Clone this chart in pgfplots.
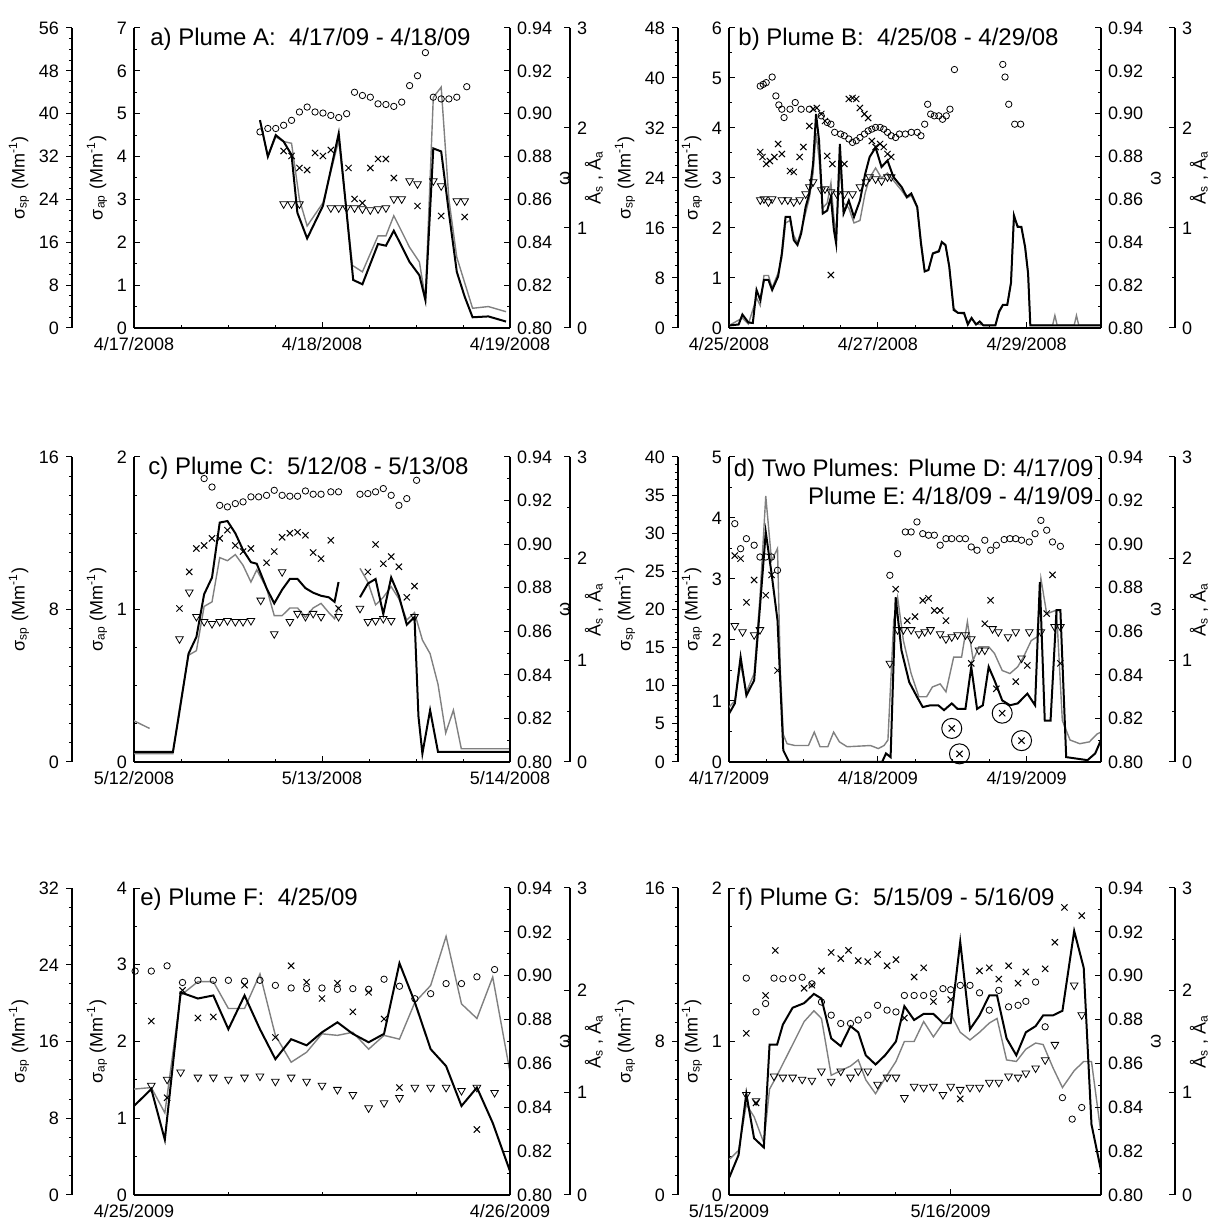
\documentclass[border=0pt]{standalone}
\usepackage{fontspec}
\setmainfont{Liberation Sans}
\usepackage{pgfplots}
\pgfplotsset{compat=1.18}

\pgfplotsset{
  every axis/.append style={scale only axis, anchor=south west,
    axis line style={-, line width=0.6pt},
    tick style={black, line width=0.5pt}, major tick length=3pt, minor tick length=1.6pt,
    tick align=inside,
    tick label style={font=\fontsize{9}{10}\selectfont},
    label style={font=\fontsize{9}{10}\selectfont},
    /pgf/number format/assume math mode=true},
  main/.style={axis x line*=bottom, axis y line*=left, ymin=0, minor y tick num=1,
    xticklabel style={yshift=-1pt}, ylabel style={yshift=-2pt}},
  omega/.style={hide x axis, axis y line*=right, ymin=0.80, ymax=0.94,
    ytick={0.80,0.82,0.84,0.86,0.88,0.90,0.92,0.94},
    yticklabels={0.80,0.82,0.84,0.86,0.88,0.90,0.92,0.94}, minor y tick num=1,
    ylabel={ω}, ylabel style={yshift=3pt}},
  angd/.style={hide axis, ymin=0, ymax=3},
  outerL/.style={width=1pt, xmin=0, xmax=1, hide x axis, axis y line*=left, ymin=0,
    tick align=outside, minor y tick num=3, axis line style={-, line width=0.9pt},
    ylabel style={yshift=-2pt}},
  outerR/.style={width=1pt, xmin=0, xmax=1, hide x axis, axis y line*=right, ymin=0, ymax=3,
    ytick={0,1,2,3}, minor y tick num=1, axis line style={-, line width=0.9pt},
    ylabel style={yshift=8pt}},
  bl/.style={black, line width=1pt, no markers},
  gl/.style={black!50, line width=0.7pt, no markers},
  circ/.style={only marks, mark=o, mark size=1.6pt, mark options={black, line width=0.4pt}},
  crs/.style={only marks, mark=x, mark size=2.2pt, mark options={black, line width=0.5pt}},
  tri/.style={only marks, mark=triangle, mark size=2.2pt, mark options={black, rotate=180, line width=0.4pt}},
  big/.style={only marks, mark=o, mark size=5pt, mark options={black, line width=0.5pt}},
  colL/.style={width=188pt},
  colR/.style={width=186pt},
  rowA/.style={height=150pt},
  rowB/.style={height=152.5pt},
  rowC/.style={height=153.5pt},
}
\tikzset{ttl/.style={inner sep=0pt, font=\fontsize{12}{14}\selectfont}}
\newcommand{\ssp}{σ\textsubscript{sp} (Mm\textsuperscript{-1})}
\newcommand{\sap}{σ\textsubscript{ap} (Mm\textsuperscript{-1})}
\newcommand{\angl}{Å\textsubscript{s} , Å\textsubscript{a}}

\begin{document}
\begin{tikzpicture}
\useasboundingbox (0,0) rectangle (610pt,610pt);

% ---------------- panel a
\begin{axis}[outerL, rowA, at={(36pt,446pt)}, ymax=56, ytick={0,8,...,56}, ylabel={\ssp}]
\end{axis}
\begin{axis}[main, colL, rowA, at={(67pt,446pt)}, xmin=0, xmax=2, ymax=7, ytick={0,...,7},
  xtick={0,1,2}, xticklabels={4/17/2008,4/18/2008,4/19/2008}, minor x tick num=3, ylabel={\sap}]
\addplot[gl] coordinates {(0.670,4.85) (0.712,4.0) (0.754,4.46) (0.796,4.35) (0.838,4.31) (0.880,3.0) (0.921,2.38) (1.005,2.92) (1.089,4.38) (1.162,1.46) (1.215,1.31) (1.298,2.15) (1.340,2.15) (1.382,2.62) (1.466,1.88) (1.518,1.54) (1.550,0.69) (1.592,5.38) (1.634,5.62) (1.675,3.0) (1.717,1.65) (1.801,0.46) (1.885,0.5) (1.979,0.38)};
\addplot[bl] coordinates {(0.670,4.85) (0.712,4.0) (0.754,4.5) (0.796,4.35) (0.838,4.04) (0.869,2.69) (0.921,2.09) (1.005,2.85) (1.089,4.54) (1.131,2.69) (1.166,1.12) (1.215,1.02) (1.298,1.96) (1.340,1.92) (1.382,2.27) (1.466,1.54) (1.518,1.23) (1.550,0.65) (1.592,4.19) (1.634,4.12) (1.675,2.69) (1.717,1.31) (1.759,0.73) (1.801,0.25) (1.885,0.27) (1.979,0.15)};
\end{axis}
\begin{axis}[omega, colL, rowA, at={(67pt,446pt)}, xmin=0, xmax=2]
\addplot[circ] coordinates {(0.670,0.8915) (0.712,0.8931) (0.754,0.8931) (0.796,0.8946) (0.838,0.8969) (0.880,0.9008) (0.921,0.9031) (0.963,0.9008) (1.005,0.9003) (1.047,0.8992) (1.089,0.8982) (1.131,0.9000) (1.173,0.9100) (1.215,0.9085) (1.257,0.9077) (1.298,0.9046) (1.340,0.9043) (1.382,0.9034) (1.424,0.9054) (1.466,0.9131) (1.508,0.9177) (1.550,0.9285) (1.592,0.9077) (1.634,0.9069) (1.675,0.9069) (1.717,0.9077) (1.770,0.9126)};
\end{axis}
\begin{axis}[angd, colL, rowA, at={(67pt,446pt)}, xmin=0, xmax=2]
\addplot[tri] coordinates {(0.796,1.24) (0.838,1.24) (0.880,1.24) (1.047,1.20) (1.089,1.20) (1.131,1.20) (1.173,1.20) (1.215,1.19) (1.257,1.18) (1.298,1.19) (1.340,1.20) (1.382,1.29) (1.424,1.29) (1.466,1.47) (1.508,1.44) (1.592,1.47) (1.634,1.42) (1.717,1.27) (1.759,1.27)};
\addplot[crs] coordinates {(0.796,1.77) (0.838,1.72) (0.880,1.60) (0.921,1.58) (0.963,1.75) (1.005,1.72) (1.047,1.78) (1.141,1.60) (1.173,1.29) (1.215,1.25) (1.257,1.60) (1.298,1.69) (1.340,1.69) (1.382,1.50) (1.508,1.22) (1.634,1.12) (1.759,1.11)};
\end{axis}
\begin{axis}[outerR, rowA, at={(284pt,446pt)}, ylabel={\angl}]
\end{axis}
\node[ttl, anchor=base west] at (75pt,587pt) {a) Plume A:\ \ 4/17/09 - 4/18/09};

% ---------------- panel b
\begin{axis}[outerL, rowA, at={(339pt,446pt)}, ymax=48, ytick={0,8,...,48}, ylabel={\ssp}]
\end{axis}
\begin{axis}[main, colR, rowA, at={(364.5pt,446pt)}, xmin=0, xmax=5, ymax=6, ytick={0,...,6},
  xtick={0,2,4}, xticklabels={4/25/2008,4/27/2008,4/29/2008}, minor x tick num=3, ylabel={\sap}]
\addplot[gl] coordinates {(0,0.05) (0.18,0.2) (0.26,0.08) (0.37,0.6) (0.42,0.45) (0.47,1.05) (0.53,1.05) (0.58,0.8) (0.66,1.1) (0.71,1.4) (0.76,2.1) (0.82,2.15) (0.87,1.85) (0.92,1.7) (0.97,1.95) (1.03,2.3) (1.08,2.6) (1.13,3.1) (1.17,3.9) (1.21,3.4) (1.26,2.4) (1.32,2.5) (1.37,2.9) (1.41,2.2) (1.44,1.9) (1.49,3.2) (1.54,2.5) (1.61,2.4) (1.68,2.1) (1.76,2.15) (1.83,2.7) (1.89,3.0) (1.97,3.2) (2.05,3.0) (2.13,3.1) (2.21,2.95) (2.32,2.75) (2.39,2.6) (2.45,2.65) (2.53,2.4) (2.58,1.75) (2.63,1.15) (2.68,1.15) (2.74,1.5) (2.82,1.55) (2.86,1.7) (2.91,1.65) (2.96,1.25) (3.02,0.4) (3.08,0.3) (3.16,0.28) (3.21,0.1) (3.26,0.2) (3.32,0.08) (3.42,0.06) (3.58,0.06) (3.63,0.3) (3.68,0.45) (3.74,0.47) (3.79,0.92) (3.83,2.2) (3.88,2.05) (3.93,2.0) (3.98,1.6) (4.02,1.1) (4.05,0.06) (4.35,0.06) (4.38,0.25) (4.41,0.06) (4.64,0.06) (4.67,0.25) (4.70,0.06) (5.0,0.06)};
\addplot[bl] coordinates {(0,0.05) (0.13,0.07) (0.18,0.27) (0.26,0.11) (0.32,0.10) (0.37,0.76) (0.42,0.56) (0.47,0.96) (0.53,0.96) (0.58,0.76) (0.66,1.03) (0.71,1.49) (0.76,2.22) (0.82,2.22) (0.87,1.76) (0.92,1.66) (0.97,1.89) (1.03,2.42) (1.08,2.69) (1.13,3.28) (1.17,4.28) (1.21,3.75) (1.26,2.29) (1.32,2.35) (1.37,2.62) (1.41,1.96) (1.44,1.69) (1.49,3.68) (1.54,2.29) (1.61,2.55) (1.68,2.22) (1.76,2.55) (1.83,3.08) (1.89,3.42) (1.97,3.61) (2.05,3.22) (2.13,3.35) (2.21,3.02) (2.32,2.82) (2.39,2.62) (2.45,2.69) (2.53,2.42) (2.58,1.69) (2.63,1.13) (2.68,1.16) (2.74,1.49) (2.82,1.53) (2.86,1.72) (2.91,1.66) (2.96,1.23) (3.02,0.36) (3.08,0.30) (3.16,0.30) (3.21,0.07) (3.26,0.20) (3.32,0.07) (3.37,0.13) (3.42,0.05) (3.58,0.05) (3.63,0.33) (3.68,0.46) (3.74,0.46) (3.79,0.90) (3.83,2.25) (3.88,2.02) (3.93,2.02) (3.98,1.62) (4.02,1.09) (4.05,0.05) (5.0,0.05)};
\end{axis}
\begin{axis}[omega, colR, rowA, at={(364.5pt,446pt)}, xmin=0, xmax=5]
\addplot[circ] coordinates {(0.42,0.9129) (0.46,0.9137) (0.50,0.9145) (0.58,0.9171) (0.63,0.9083) (0.67,0.9041) (0.71,0.9021) (0.74,0.8982) (0.82,0.9021) (0.89,0.9052) (0.97,0.9021) (1.08,0.9021) (1.24,0.8990) (1.32,0.8959) (1.37,0.8951) (1.42,0.8913) (1.50,0.8905) (1.55,0.8897) (1.61,0.8882) (1.66,0.8866) (1.71,0.8874) (1.76,0.8889) (1.82,0.8905) (1.87,0.8920) (1.92,0.8928) (1.97,0.8936) (2.03,0.8936) (2.08,0.8928) (2.13,0.8913) (2.18,0.8897) (2.24,0.8889) (2.29,0.8905) (2.37,0.8905) (2.45,0.8913) (2.53,0.8913) (2.58,0.8897) (2.63,0.8951) (2.67,0.9044) (2.71,0.8998) (2.76,0.8990) (2.82,0.8990) (2.87,0.8974) (2.92,0.8990) (2.97,0.9021) (3.03,0.9206) (3.68,0.9230) (3.71,0.9171) (3.76,0.9044) (3.84,0.8951) (3.92,0.8951)};
\end{axis}
\begin{axis}[angd, colR, rowA, at={(364.5pt,446pt)}, xmin=0, xmax=5]
\addplot[tri] coordinates {(0.42,1.28) (0.47,1.29) (0.53,1.26) (0.58,1.29) (0.71,1.28) (0.79,1.28) (0.87,1.26) (0.95,1.28) (1.03,1.34) (1.08,1.41) (1.13,1.46) (1.24,1.38) (1.29,1.39) (1.37,1.36) (1.45,1.34) (1.55,1.34) (1.66,1.34) (1.76,1.41) (1.84,1.46) (1.89,1.51) (1.97,1.49) (2.05,1.47) (2.13,1.51) (2.18,1.51)};
\addplot[crs] coordinates {(0.42,1.76) (0.45,1.71) (0.50,1.64) (0.55,1.67) (0.61,1.71) (0.66,1.84) (0.71,1.74) (0.82,1.57) (0.87,1.56) (0.95,1.71) (1.00,1.81) (1.08,2.02) (1.13,2.19) (1.18,2.20) (1.24,2.14) (1.29,2.07) (1.32,1.72) (1.37,0.53) (1.39,1.64) (1.55,1.64) (1.61,2.29) (1.66,2.30) (1.71,2.29) (1.76,2.20) (1.82,2.14) (1.87,2.10) (1.92,1.87) (1.97,1.81) (2.03,1.84) (2.08,1.81) (2.13,1.74) (2.18,1.71)};
\end{axis}
\begin{axis}[outerR, rowA, at={(586.5pt,446pt)}, ylabel={\angl}]
\end{axis}
\node[ttl, anchor=base west] at (369pt,587pt) {b) Plume B:\ \ 4/25/08 - 4/29/08};

% ---------------- panel c
\begin{axis}[outerL, rowB, at={(36pt,229pt)}, ymax=16, ytick={0,8,16}, minor y tick num=7, ylabel={\ssp}]
\end{axis}
\begin{axis}[main, colL, rowB, at={(67pt,229pt)}, xmin=0, xmax=2, ymax=2, ytick={0,1,2}, minor y tick num=3,
  xtick={0,1,2}, xticklabels={5/12/2008,5/13/2008,5/14/2008}, minor x tick num=3, ylabel={\sap}]
\addplot[gl] coordinates {(0,0.27) (0.083,0.22)};
\addplot[gl] coordinates {(0,0.055) (0.207,0.055) (0.238,0.32) (0.290,0.70) (0.332,0.73) (0.373,1.02) (0.415,1.05) (0.456,1.34) (0.497,1.32) (0.539,1.36) (0.580,1.29) (0.622,1.18) (0.653,1.26) (0.705,1.14) (0.746,0.96) (0.788,0.96) (0.829,1.01) (0.870,1.01) (0.912,0.95) (0.953,1.01) (0.995,1.04) (1.036,0.98) (1.067,0.94) (1.088,1.02)};
\addplot[gl] coordinates {(1.202,1.27) (1.244,1.18) (1.285,1.03) (1.326,1.08) (1.368,1.15) (1.409,1.07) (1.451,0.93) (1.492,0.98) (1.534,0.80) (1.575,0.71) (1.617,0.51) (1.658,0.19) (1.699,0.34) (1.741,0.087) (2.0,0.087)};
\addplot[bl] coordinates {(0,0.066) (0.207,0.066) (0.238,0.30) (0.290,0.71) (0.332,0.82) (0.373,1.10) (0.415,1.21) (0.456,1.57) (0.497,1.58) (0.539,1.50) (0.580,1.39) (0.622,1.31) (0.653,1.30) (0.705,1.14) (0.746,1.04) (0.788,1.13) (0.829,1.20) (0.870,1.20) (0.912,1.14) (0.953,1.11) (0.995,1.09) (1.036,1.08) (1.067,1.05) (1.088,1.18)};
\addplot[bl] coordinates {(1.202,1.08) (1.244,1.17) (1.285,1.20) (1.326,0.97) (1.368,1.21) (1.409,1.09) (1.451,0.90) (1.492,0.95) (1.513,0.30) (1.534,0.055) (1.575,0.34) (1.617,0.066) (2.0,0.066)};
\end{axis}
\begin{axis}[omega, colL, rowB, at={(67pt,229pt)}, xmin=0, xmax=2]
\addplot[circ] coordinates {(0.373,0.9301) (0.415,0.9262) (0.456,0.9178) (0.497,0.9171) (0.539,0.9186) (0.580,0.9194) (0.622,0.9217) (0.663,0.9217) (0.705,0.9224) (0.746,0.9247) (0.788,0.9224) (0.829,0.9220) (0.870,0.9220) (0.912,0.9244) (0.953,0.9229) (0.995,0.9229) (1.047,0.9240) (1.088,0.9240) (1.202,0.9229) (1.244,0.9232) (1.285,0.9240) (1.326,0.9255) (1.368,0.9224) (1.409,0.9178) (1.451,0.9209) (1.503,0.9293)};
\end{axis}
\begin{axis}[angd, colL, rowB, at={(67pt,229pt)}, xmin=0, xmax=2]
\addplot[tri] coordinates {(0.242,1.21) (0.294,1.67) (0.332,1.43) (0.373,1.38) (0.415,1.36) (0.456,1.38) (0.497,1.39) (0.539,1.38) (0.580,1.38) (0.622,1.39) (0.674,1.59) (0.746,1.26) (0.788,1.87) (0.829,1.38) (0.870,1.46) (0.912,1.43) (0.953,1.46) (0.995,1.43) (1.088,1.43) (1.202,1.51) (1.244,1.38) (1.285,1.39) (1.326,1.41) (1.368,1.39) (1.492,1.43)};
\addplot[crs] coordinates {(0.242,1.51) (0.294,1.87) (0.332,2.10) (0.373,2.13) (0.415,2.20) (0.456,2.20) (0.497,2.28) (0.539,2.13) (0.580,2.07) (0.622,2.10) (0.705,1.96) (0.746,2.07) (0.788,2.21) (0.829,2.25) (0.870,2.26) (0.912,2.23) (0.953,2.06) (0.995,2.00) (1.047,2.18) (1.088,1.51) (1.244,1.87) (1.285,2.14) (1.326,1.95) (1.368,2.02) (1.409,1.92) (1.451,1.62) (1.492,1.73)};
\end{axis}
\begin{axis}[outerR, rowB, at={(284pt,229pt)}, ylabel={\angl}]
\end{axis}
\node[ttl, anchor=base west] at (74pt,372.5pt) {c) Plume C:\ \ 5/12/08 - 5/13/08};

% ---------------- panel d
\begin{axis}[outerL, rowB, at={(339pt,229pt)}, ymax=40, ytick={0,5,...,40}, minor y tick num=4, ylabel={\ssp}]
\end{axis}
\begin{axis}[main, colR, rowB, at={(364.5pt,229pt)}, xmin=0, xmax=2.5, ymax=5, ytick={0,...,5},
  xtick={0,1,2}, xticklabels={4/17/2009,4/18/2009,4/19/2009}, minor x tick num=3, ylabel={\sap}]
\addplot[gl] coordinates {(0,0.9) (0.039,1.0) (0.078,1.6) (0.117,1.15) (0.169,1.45) (0.208,2.7) (0.247,4.36) (0.286,3.3) (0.326,3.5) (0.345,1.5) (0.365,0.45) (0.39,0.3) (0.443,0.27) (0.534,0.27) (0.573,0.49) (0.612,0.25) (0.664,0.25) (0.703,0.49) (0.742,0.33) (0.794,0.25) (0.951,0.27) (1.003,0.22) (1.042,0.27) (1.068,0.36) (1.107,2.32) (1.133,2.70) (1.172,1.99) (1.224,1.45) (1.276,1.07) (1.328,1.07) (1.367,1.23) (1.419,1.28) (1.458,1.15) (1.510,1.72) (1.563,1.72) (1.602,2.30) (1.641,1.67) (1.680,1.89) (1.745,1.89) (1.784,1.78) (1.836,1.50) (1.888,1.45) (1.940,1.56) (1.979,1.72) (2.031,1.99) (2.070,2.05) (2.096,3.01) (2.135,2.43) (2.201,2.49) (2.240,0.68) (2.292,0.36) (2.357,0.30) (2.422,0.33) (2.474,0.46) (2.5,0.49)};
\addplot[bl] coordinates {(0,0.79) (0.039,0.96) (0.078,1.72) (0.117,1.09) (0.169,1.34) (0.208,2.54) (0.247,3.77) (0.286,3.09) (0.326,2.32) (0.365,0.19) (0.404,0) (1.029,0) (1.055,0.14) (1.086,0.08) (1.120,2.70) (1.159,1.83) (1.211,1.31) (1.263,1.07) (1.302,0.90) (1.354,0.93) (1.406,0.93) (1.445,0.85) (1.497,0.96) (1.536,0.87) (1.589,0.87) (1.628,1.56) (1.667,0.87) (1.706,0.93) (1.745,1.56) (1.784,1.34) (1.836,1.01) (1.888,0.93) (1.940,0.96) (2.005,1.12) (2.057,0.93) (2.089,2.95) (2.122,0.68) (2.161,0.68) (2.201,2.49) (2.227,2.49) (2.266,0.08) (2.409,0.03) (2.461,0.14) (2.5,0.36)};
\end{axis}
\begin{axis}[omega, colR, rowB, at={(364.5pt,229pt)}, xmin=0, xmax=2.5]
\addplot[circ] coordinates {(0.039,0.9094) (0.078,0.8979) (0.117,0.9025) (0.169,0.8995) (0.208,0.8941) (0.247,0.8941) (0.286,0.8941) (0.326,0.8880) (1.081,0.8857) (1.133,0.8956) (1.185,0.9056) (1.224,0.9056) (1.263,0.9102) (1.302,0.9048) (1.341,0.9041) (1.380,0.9041) (1.419,0.8995) (1.458,0.9025) (1.497,0.9025) (1.549,0.9025) (1.589,0.9025) (1.628,0.8987) (1.667,0.8972) (1.719,0.9018) (1.758,0.8972) (1.797,0.8995) (1.849,0.9021) (1.888,0.9025) (1.927,0.9025) (1.966,0.9018) (2.018,0.9010) (2.057,0.9048) (2.096,0.9109) (2.135,0.9064) (2.174,0.9010) (2.227,0.8990)};
\end{axis}
\begin{axis}[angd, colR, rowB, at={(364.5pt,229pt)}, xmin=0, xmax=2.5]
\addplot[tri] coordinates {(0.039,1.34) (0.091,1.28) (0.169,1.25) (0.208,1.30) (1.081,0.97) (1.133,1.30) (1.172,1.30) (1.224,1.30) (1.276,1.26) (1.315,1.28) (1.354,1.30) (1.419,1.26) (1.458,1.21) (1.497,1.23) (1.536,1.25) (1.589,1.25) (1.628,1.21) (1.680,1.10) (1.719,1.10) (1.771,1.31) (1.810,1.28) (1.875,1.23) (1.927,1.28) (1.966,1.02) (2.018,1.28) (2.096,1.28) (2.188,1.33) (2.227,1.33)};
\addplot[crs] coordinates {(0.039,2.03) (0.078,2.00) (0.117,1.57) (0.169,1.79) (0.247,1.64) (0.286,1.84) (0.326,0.90) (1.120,1.70) (1.198,1.39) (1.250,1.43) (1.302,1.59) (1.341,1.61) (1.380,1.49) (1.419,1.49) (1.458,1.39) (1.628,0.97) (1.719,1.36) (1.758,1.59) (1.797,0.72) (1.927,0.79) (2.005,0.95) (2.135,1.46) (2.174,1.84) (2.227,0.97) (1.497,0.33) (1.549,0.08) (1.836,0.48) (1.966,0.21)};
\addplot[big] coordinates {(1.497,0.33) (1.549,0.08) (1.836,0.48) (1.966,0.21)};
\end{axis}
\begin{axis}[outerR, rowB, at={(586.5pt,229pt)}, ylabel={\angl}]
\end{axis}
\node[ttl, anchor=base east] at (547pt,371.5pt) {d) Two Plumes: Plume D: 4/17/09};
\node[ttl, anchor=base east] at (547pt,357.5pt) {Plume E: 4/18/09 - 4/19/09};

% ---------------- panel e
\begin{axis}[outerL, rowC, at={(36pt,12.5pt)}, ymax=32, ytick={0,8,...,32}, ylabel={\ssp}]
\end{axis}
\begin{axis}[main, colL, rowC, at={(67pt,12.5pt)}, xmin=0, xmax=1, ymax=4, ytick={0,...,4},
  xtick={0,1}, xticklabels={4/25/2009,4/26/2009}, minor x tick num=3, ylabel={\sap}]
\addplot[gl] coordinates {(0,1.38) (0.046,1.40) (0.082,1.07) (0.124,2.60) (0.170,2.78) (0.211,2.78) (0.251,2.43) (0.294,2.43) (0.335,2.88) (0.376,2.08) (0.418,1.73) (0.459,1.86) (0.500,2.10) (0.541,2.08) (0.582,2.12) (0.624,1.90) (0.665,2.08) (0.706,2.03) (0.747,2.51) (0.789,2.73) (0.830,3.37) (0.871,2.49) (0.912,2.30) (0.954,2.84) (1.0,1.60)};
\addplot[bl] coordinates {(0,1.16) (0.046,1.38) (0.082,0.72) (0.124,2.64) (0.170,2.56) (0.211,2.60) (0.251,2.16) (0.294,2.60) (0.335,2.16) (0.376,1.77) (0.418,2.03) (0.459,1.95) (0.500,2.12) (0.541,2.25) (0.582,2.10) (0.624,1.99) (0.665,2.10) (0.706,3.02) (0.747,2.51) (0.789,1.90) (0.830,1.68) (0.871,1.16) (0.912,1.40) (0.954,0.94) (1.0,0.31)};
\end{axis}
\begin{axis}[omega, colL, rowC, at={(67pt,12.5pt)}, xmin=0, xmax=1]
\addplot[circ] coordinates {(0.003,0.9021) (0.046,0.9021) (0.088,0.9045) (0.129,0.8969) (0.170,0.8979) (0.211,0.8979) (0.251,0.8979) (0.294,0.8975) (0.335,0.8979) (0.376,0.8956) (0.418,0.8944) (0.459,0.8941) (0.500,0.8944) (0.541,0.8938) (0.582,0.8941) (0.624,0.8938) (0.665,0.8984) (0.706,0.8952) (0.747,0.8895) (0.789,0.8918) (0.830,0.8964) (0.871,0.8964) (0.912,0.8995) (0.959,0.9028)};
\end{axis}
\begin{axis}[angd, colL, rowC, at={(67pt,12.5pt)}, xmin=0, xmax=1]
\addplot[tri] coordinates {(0.046,1.07) (0.088,1.13) (0.124,1.20) (0.170,1.15) (0.211,1.15) (0.251,1.13) (0.294,1.15) (0.335,1.16) (0.376,1.11) (0.418,1.15) (0.459,1.11) (0.500,1.07) (0.541,1.03) (0.582,0.98) (0.624,0.85) (0.665,0.90) (0.706,0.95) (0.747,1.05) (0.789,1.05) (0.830,1.05) (0.871,1.02) (0.912,1.05) (0.959,1.00)};
\addplot[crs] coordinates {(0.046,1.70) (0.088,0.95) (0.129,2.00) (0.170,1.73) (0.211,1.74) (0.294,2.05) (0.376,1.54) (0.418,2.24) (0.459,2.08) (0.500,1.92) (0.541,2.07) (0.582,1.79) (0.624,1.98) (0.665,1.72) (0.706,1.05) (0.912,0.64)};
\end{axis}
\begin{axis}[outerR, rowC, at={(284pt,12.5pt)}, ylabel={\angl}]
\end{axis}
\node[ttl, anchor=base west] at (70pt,157pt) {e) Plume F:\ \ 4/25/09};

% ---------------- panel f
\begin{axis}[outerL, rowC, at={(339pt,12.5pt)}, ymax=16, ytick={0,8,16}, minor y tick num=7,
  ylabel={σ\textsubscript{ap} (Mm\textsuperscript{-1})}]
\end{axis}
\begin{axis}[main, colR, rowC, at={(364.5pt,12.5pt)}, xmin=0, xmax=1.678, ymax=2, ytick={0,1,2}, minor y tick num=3,
  xtick={0,1}, xticklabels={5/15/2009,5/16/2009}, minor x tick num=3,
  ylabel={σ\textsubscript{sp} (Mm\textsuperscript{-1})}]
\addplot[gl] coordinates {(0,0.23) (0.043,0.29) (0.078,0.59) (0.113,0.51) (0.157,0.34) (0.183,0.69) (0.217,0.78) (0.287,0.98) (0.339,1.13) (0.383,1.20) (0.417,1.15) (0.461,0.78) (0.504,0.81) (0.548,0.84) (0.583,0.88) (0.617,0.75) (0.661,0.66) (0.704,0.76) (0.753,0.87) (0.791,1.00) (0.835,1.00) (0.878,1.13) (0.922,1.03) (0.965,1.12) (1.000,1.18) (1.043,1.06) (1.087,1.01) (1.130,1.06) (1.174,1.12) (1.209,1.15) (1.252,0.88) (1.296,0.87) (1.339,0.95) (1.383,0.99) (1.417,0.98) (1.461,0.83) (1.504,0.70) (1.557,0.81) (1.600,0.87) (1.635,0.87) (1.678,0.40)};
\addplot[bl] coordinates {(0,0.11) (0.043,0.26) (0.078,0.66) (0.113,0.37) (0.157,0.31) (0.183,0.98) (0.217,0.98) (0.243,1.11) (0.287,1.22) (0.339,1.25) (0.383,1.31) (0.417,1.28) (0.461,1.02) (0.504,0.97) (0.548,1.10) (0.583,1.06) (0.617,0.91) (0.661,0.85) (0.704,0.91) (0.753,1.00) (0.791,1.23) (0.835,1.14) (0.878,1.18) (0.922,1.18) (0.965,1.12) (1.000,1.12) (1.043,1.65) (1.087,1.08) (1.130,1.17) (1.174,1.30) (1.209,1.30) (1.252,1.02) (1.296,0.91) (1.339,1.06) (1.383,1.10) (1.417,1.17) (1.461,1.17) (1.504,1.20) (1.557,1.72) (1.600,1.48) (1.635,0.46) (1.678,0.16)};
\end{axis}
\begin{axis}[omega, colR, rowC, at={(364.5pt,12.5pt)}, xmin=0, xmax=1.678]
\addplot[circ] coordinates {(0.078,0.8989) (0.122,0.8835) (0.165,0.8873) (0.203,0.8989) (0.243,0.8986) (0.287,0.8989) (0.330,0.8993) (0.374,0.8963) (0.417,0.8880) (0.461,0.8820) (0.504,0.8782) (0.548,0.8782) (0.583,0.8798) (0.626,0.8820) (0.670,0.8865) (0.713,0.8843) (0.753,0.8835) (0.791,0.8910) (0.835,0.8910) (0.878,0.8910) (0.922,0.8918) (0.965,0.8941) (1.000,0.8936) (1.043,0.8956) (1.087,0.8956) (1.130,0.8922) (1.174,0.8843) (1.217,0.8933) (1.261,0.8858) (1.304,0.8865) (1.339,0.8883) (1.383,0.8971) (1.426,0.8767) (1.504,0.8444) (1.548,0.8346) (1.591,0.8399)};
\end{axis}
\begin{axis}[angd, colR, rowC, at={(364.5pt,12.5pt)}, xmin=0, xmax=1.678]
\addplot[tri] coordinates {(0.078,0.98) (0.122,0.92) (0.203,1.16) (0.243,1.15) (0.287,1.15) (0.330,1.13) (0.374,1.12) (0.417,1.21) (0.461,1.11) (0.504,1.21) (0.548,1.15) (0.583,1.21) (0.626,1.21) (0.670,1.08) (0.713,1.15) (0.753,1.15) (0.791,0.95) (0.835,1.06) (0.878,1.05) (0.922,1.06) (0.965,0.98) (1.000,1.06) (1.043,1.03) (1.087,1.05) (1.130,1.05) (1.174,1.10) (1.217,1.10) (1.261,1.16) (1.304,1.15) (1.339,1.19) (1.383,1.24) (1.426,1.32) (1.470,1.47) (1.557,2.05) (1.591,1.76)};
\addplot[crs] coordinates {(0.078,1.58) (0.122,0.90) (0.165,1.95) (0.209,2.39) (0.339,2.02) (0.374,2.05) (0.417,2.19) (0.461,2.37) (0.504,2.31) (0.539,2.39) (0.583,2.29) (0.626,2.28) (0.670,2.35) (0.713,2.24) (0.753,2.30) (0.791,1.73) (0.835,2.13) (0.878,2.22) (0.922,1.89) (1.000,1.91) (1.043,0.94) (1.130,2.19) (1.174,2.22) (1.217,2.11) (1.261,2.24) (1.304,2.07) (1.339,2.18) (1.426,2.21) (1.470,2.47) (1.513,2.81) (1.591,2.73)};
\end{axis}
\begin{axis}[outerR, rowC, at={(586.5pt,12.5pt)}, ylabel={\angl}]
\end{axis}
\node[ttl, anchor=base west] at (369pt,157pt) {f) Plume G:\ \ 5/15/09 - 5/16/09};
\end{tikzpicture}
\end{document}
